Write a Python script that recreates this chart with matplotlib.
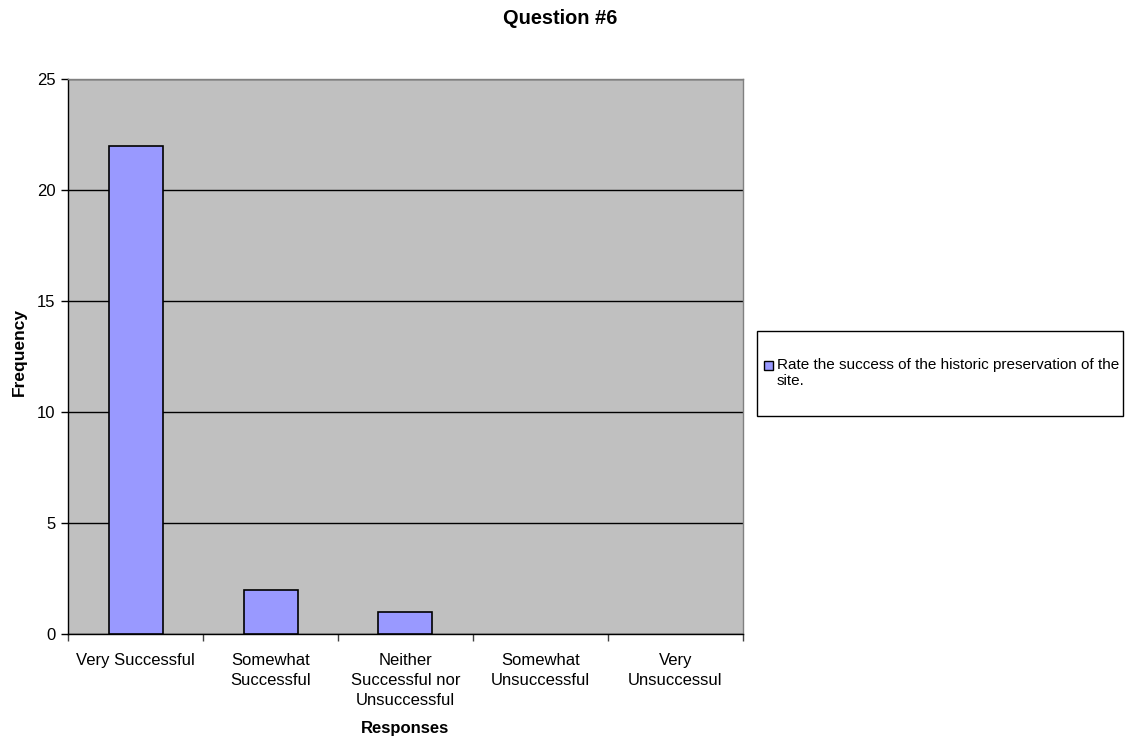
import matplotlib
matplotlib.use("Agg")
import matplotlib.pyplot as plt
from matplotlib.patches import Rectangle

plt.rcParams['font.family'] = ['Liberation Sans', 'DejaVu Sans']

categories = ["Very Successful", "Somewhat\nSuccessful", "Neither\nSuccessful nor\nUnsuccessful",
              "Somewhat\nUnsuccessful", "Very\nUnsuccessul"]
frequency = [22, 2, 1, 0, 0]
yticks = [0, 5, 10, 15, 20, 25]
series_label = "Rate the success of the historic preservation of the\nsite."

W, H = 1125, 740
fig = plt.figure(figsize=(W / 100, H / 100), dpi=100)
ax = fig.add_axes([68 / W, 1 - 634 / H, (743 - 68) / W, (634 - 79) / H])
ax.set_facecolor("#c0c0c0")

x = list(range(len(categories)))
# empty categories get no outline
edge_widths = [1.2 if v > 0 else 0 for v in frequency]
ax.bar(x, frequency, width=0.4, color="#9999ff", edgecolor="black",
       linewidth=edge_widths, zorder=3)

ax.set_xlim(-0.5, len(categories) - 0.5)
ax.set_ylim(0, 25)
ax.set_yticks(yticks)
ax.yaxis.grid(True, color="black", linewidth=1, zorder=1)
ax.set_axisbelow(True)

ax.set_xticks(x)
ax.set_xticklabels(categories, fontsize=12, linespacing=1.4)
ax.set_xticks([i - 0.5 for i in range(len(categories) + 1)], minor=True)
ax.tick_params(axis="x", which="major", length=0, pad=14)
ax.tick_params(axis="x", which="minor", length=5, width=1, color="#404040", direction="out")
ax.tick_params(axis="y", length=5, width=1, labelsize=12, pad=4)

for side in ("top", "right"):
    ax.spines[side].set_color("#808080")
    ax.spines[side].set_linewidth(1)
for side in ("left", "bottom"):
    ax.spines[side].set_color("black")
    ax.spines[side].set_linewidth(1)

fig.text(560 / W, 1 - 19 / H, "Question #6", ha="center", va="center",
         fontsize=14.4, fontweight="bold")
fig.text(19 / W, 1 - 352 / H, "Frequency", ha="center", va="center",
         rotation=90, fontsize=12.5, fontweight="bold")
fig.text(405 / W, 1 - 729 / H, "Responses", ha="center", va="center",
         fontsize=12, fontweight="bold")

# Legend box drawn in figure pixel coordinates
fig.patches.append(Rectangle((757 / W, 1 - 416 / H), (1123 - 757) / W, (416 - 331) / H,
                             transform=fig.transFigure, facecolor="white",
                             edgecolor="black", linewidth=1))
fig.patches.append(Rectangle((764 / W, 1 - 370 / H), 9 / W, 9 / H,
                             transform=fig.transFigure, facecolor="#9999ff",
                             edgecolor="black", linewidth=1))
fig.text(777 / W, 1 - 358 / H, series_label, ha="left", va="top", fontsize=11,
         linespacing=1.2)

fig.savefig("out.png", dpi=100)
